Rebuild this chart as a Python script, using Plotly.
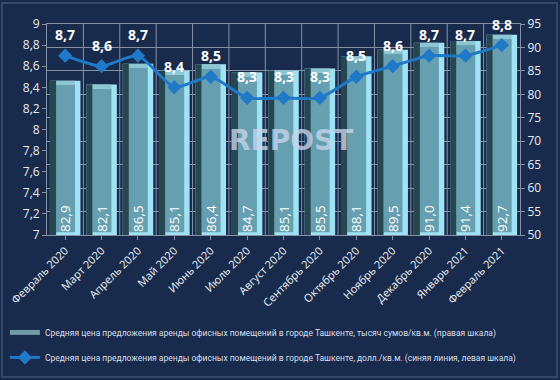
import plotly.graph_objects as go

categories = ["Февраль 2020", "Март 2020", "Апрель 2020", "Май 2020", "Июнь 2020",
              "Июль 2020", "Август 2020", "Сентябрь 2020", "Октябрь 2020",
              "Ноябрь 2020", "Декабрь 2020", "Январь 2021", "Февраль 2021"]
sum_values = [82.9, 82.1, 86.5, 85.1, 86.4, 84.7, 85.1, 85.5, 88.1, 89.5, 91.0, 91.4, 92.7]
usd_values = [8.7, 8.6, 8.7, 8.4, 8.5, 8.3, 8.3, 8.3, 8.5, 8.6, 8.7, 8.7, 8.8]
left_ticks = [7, 7.2, 7.4, 7.6, 7.8, 8, 8.2, 8.4, 8.6, 8.8, 9]
right_ticks = [50, 55, 60, 65, 70, 75, 80, 85, 90, 95]

bar_name = "Средняя цена предложения аренды офисных помещений в городе Ташкенте, тысяч сумов/кв.м. (правая шкала)"
line_name = "Средняя цена предложения аренды офисных помещений в городе Ташкенте, долл./кв.м. (синяя линия, левая шкала)"

def fmt(v):
    return f"{v:.1f}".replace(".", ",")

FONT = "Open Sans"
BG = "#182b4c"
GRID = "#8592a3"
x = list(range(len(categories)))
heights = [v - 50 for v in sum_values]
BEV = 0.9
n = len(x)

fig = go.Figure()
# full bar (light right edge)
fig.add_trace(go.Bar(x=x, y=heights, base=50, width=0.84,
                     marker=dict(color="#9fe2f3", line=dict(width=0)),
                     showlegend=False, yaxis="y", hoverinfo="skip"))
# mid face
fig.add_trace(go.Bar(x=[i + 0.01 for i in x], y=[h - BEV - 0.6 for h in heights], base=50.6,
                     width=0.52,
                     marker=dict(color="#659fb0", line=dict(width=0)),
                     showlegend=False, hoverinfo="skip", yaxis="y"))
# top bevel
fig.add_trace(go.Bar(x=[i + 0.01 for i in x], y=[BEV] * n, base=[v - BEV for v in sum_values],
                     width=0.52,
                     marker=dict(color="#8ec5d2", line=dict(width=0)),
                     showlegend=False, hoverinfo="skip", yaxis="y"))
# dark left bevel
fig.add_trace(go.Bar(x=[i - 0.335 for i in x], y=heights, base=50, width=0.17,
                     marker=dict(color="#27464f", line=dict(width=0)),
                     showlegend=False, hoverinfo="skip", yaxis="y"))
# value labels (transparent bar)
fig.add_trace(go.Bar(x=x, y=heights, base=50, width=0.84,
                     marker=dict(color="rgba(0,0,0,0)", line=dict(width=0)),
                     text=[fmt(v) for v in sum_values], textposition="inside",
                     insidetextanchor="start", textangle=-90, constraintext="none",
                     textfont=dict(family=FONT, size=13.5, color="#ffffff"),
                     showlegend=False, yaxis="y"))
# legend proxy for bars
fig.add_trace(go.Scatter(x=[0], y=[50], mode="lines", yaxis="y",
                         line=dict(color="#6f9aa6", width=5),
                         name=bar_name, legendgroup="a", showlegend=True,
                         hoverinfo="skip"))
fig.add_trace(go.Scatter(x=x, y=usd_values, mode="lines+markers", yaxis="y2",
                         line=dict(color="#1f78c8", width=3, shape="spline", smoothing=0.6),
                         marker=dict(symbol="diamond", size=11, color="#1f78c8"),
                         name=line_name, legendgroup="b"))

for i, v in enumerate(usd_values):
    fig.add_annotation(x=x[i], y=v, xref="x", yref="y2", text=f"<b>{fmt(v)}</b>",
                       showarrow=False, yshift=21,
                       font=dict(family=FONT, size=14, color="#ffffff"))

fig.add_annotation(xref="paper", yref="paper", x=0.516, y=0.45, text="<b>REPOST</b>",
                   showarrow=False,
                   font=dict(family="DejaVu Sans", size=28, color="rgba(200,212,235,0.8)"))

for i in range(1, n):
    fig.add_shape(type="line", xref="x", yref="paper", x0=i - 0.5, x1=i - 0.5, y0=0, y1=1,
                  line=dict(color=GRID, width=1), layer="below")

fig.add_shape(type="rect", xref="paper", yref="paper",
              x0=-45 / 473, x1=1 + 37 / 473, y0=-(377 - 235) / 211, y1=1 + 21 / 211,
              line=dict(color="#33486a", width=2), layer="below")

fig.update_layout(
    width=560, height=380,
    margin=dict(l=47, r=40, t=24, b=145, autoexpand=False),
    paper_bgcolor=BG, plot_bgcolor=BG,
    barmode="overlay",
    separators=", ",
    font=dict(family=FONT, color="#e6ebf2"),
    xaxis=dict(tickmode="array", tickvals=x, ticktext=categories, tickangle=-45,
               range=[-0.5, 12.5], automargin=False,
               tickfont=dict(size=11, color="#eef2f6"),
               showgrid=False, showline=True, linecolor=GRID, linewidth=1,
               ticks="outside", ticklen=4, tickcolor=GRID, mirror=True),
    yaxis=dict(side="right", range=[50, 95], tickvals=right_ticks, automargin=False,
               tickfont=dict(size=12, color="#e6ebf2"),
               showgrid=True, gridcolor=GRID, gridwidth=1,
               showline=True, linecolor=GRID, ticks="outside", ticklen=4,
               tickcolor=GRID, zeroline=False),
    yaxis2=dict(side="left", overlaying="y", range=[7, 9], tickvals=left_ticks,
                automargin=False,
                tickfont=dict(size=12, color="#e6ebf2"),
                showgrid=False, showline=True, linecolor=GRID,
                ticks="outside", ticklen=4, tickcolor=GRID, zeroline=False),
    legend=dict(orientation="v", x=-0.089, xanchor="left",
                y=-0.393, yanchor="top",
                font=dict(family="Roboto", size=8.5, color="#d8dee8"),
                bgcolor="rgba(0,0,0,0)", tracegroupgap=6,
                traceorder="grouped"),
    showlegend=True,
)

fig.write_html("out.html", config={"displayModeBar": False},
               post_script="document.body.style.margin='0';")
